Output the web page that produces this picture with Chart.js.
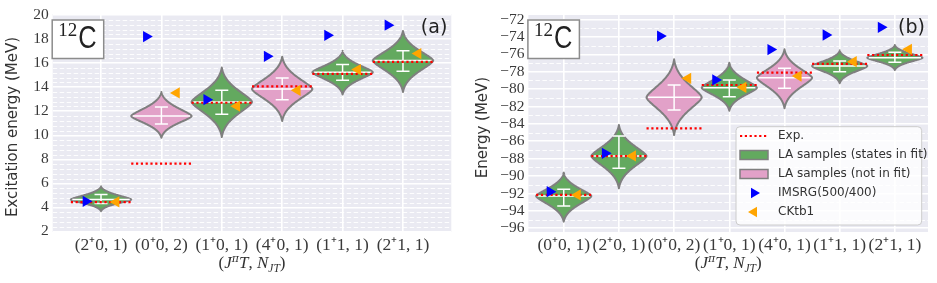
<!DOCTYPE html>
<html><head><meta charset="utf-8">
<script src="https://cdn.jsdelivr.net/npm/chart.js@4.4.1/dist/chart.umd.min.js"></script>
<style>
html,body{margin:0;padding:0;background:#fff;}
body{width:937px;height:283px;position:relative;overflow:hidden;}
canvas{position:absolute;top:0;}
#ca{left:0;} #cb{left:468px;}
</style></head><body>
<canvas id="ca" width="468" height="283"></canvas>
<canvas id="cb" width="469" height="283"></canvas>
<script>
// ---------- Panel (a): excitation energies ----------
const catsA      = ['(2\u207A0, 1)','(0\u207A0, 2)','(1\u207A0, 1)','(4\u207A0, 1)','(1\u207A1, 1)','(2\u207A1, 1)'];
const inFitA     = [1, 0, 1, 0, 1, 1];
const medianA    = [4.65, 11.6, 12.78, 13.85, 15.25, 16.22];
const errLowA    = [4.32, 10.94, 11.75, 12.97, 14.58, 15.33];
const errHighA   = [5.08, 12.36, 13.75, 14.78, 15.89, 17.03];
const vTopA      = [5.75, 13.6, 15.64, 16.55, 17.03, 18.69];
const vBottomA   = [3.69, 9.8, 9.86, 11.19, 13.4, 13.61];
const expA       = [4.44, 7.65, 12.71, 14.08, 15.11, 16.11];
const imsrgA     = [4.5, 18.22, 12.97, 16.58, 18.33, 19.17];
const cktb1A     = [4.45, 13.53, 12.42, 13.75, 15.47, 16.81];
const yTicksA    = [2, 4, 6, 8, 10, 12, 14, 16, 18, 20];

// ---------- Panel (b): absolute energies ----------
const catsB      = ['(0\u207A0, 1)','(2\u207A0, 1)','(0\u207A0, 2)','(1\u207A0, 1)','(4\u207A0, 1)','(1\u207A1, 1)','(2\u207A1, 1)'];
const inFitB     = [1, 1, 0, 1, 0, 1, 1];
const medianB    = [-92.3, -87.7, -80.95, -79.85, -78.7, -77.35, -76.4];
const errLowB    = [-93.44, -89.1, -82.4, -80.87, -79.9, -78.0, -76.92];
const errHighB   = [-91.52, -85.39, -79.53, -78.95, -77.6, -76.77, -75.77];
const vTopB      = [-89.6, -84.13, -76.58, -76.97, -75.43, -75.55, -74.93];
const vBottomB   = [-95.24, -91.4, -85.28, -82.48, -82.2, -79.33, -77.8];
const expB       = [-92.16, -87.7, -84.51, -79.53, -78.11, -77.11, -76.08];
const imsrgB     = [-91.79, -87.38, -73.9, -78.95, -75.45, -73.78, -72.9];
const cktb1B     = [-92.17, -87.69, -78.76, -79.8, -78.5, -76.85, -75.43];
const yTicksB    = [-96, -94, -92, -90, -88, -86, -84, -82, -80, -78, -76, -74, -72];

const GREEN = '#63a95f', PINK = '#e2a1c8', EDGE = '#7f7f7f', BG = '#eaeaf2';
const BLUE = '#0000ff', ORANGE = '#ffa500', RED = '#ff0000';
const TXT = '#333333';

function violinProfile(s) { return Math.exp(-3 * Math.pow(s, 1.5)) * (1 - Math.pow(s, 4)); }
function fmtTick(v) { return v < 0 ? '\u2212' + Math.abs(v) : String(v); }

function drawRightTri(ctx, x, y, r, color, dir) {
  ctx.save(); ctx.fillStyle = color; ctx.beginPath();
  const h = r * Math.sqrt(3) / 2;
  ctx.moveTo(x + dir * r, y); ctx.lineTo(x - dir * r / 2, y - h); ctx.lineTo(x - dir * r / 2, y + h);
  ctx.closePath(); ctx.fill(); ctx.restore();
}

function drawXTitle(ctx, cx, cy) {
  const parts = [
    {t: '(', f: '17px "Liberation Serif"', dy: 0},
    {t: 'J', f: 'italic 17px "Liberation Serif"', dy: 0},
    {t: '\u03C0', f: 'italic 11px "DejaVu Serif"', dy: -6},
    {t: 'T', f: 'italic 17px "Liberation Serif"', dy: 0},
    {t: ', ', f: '17px "Liberation Serif"', dy: 0},
    {t: 'N', f: 'italic 17px "Liberation Serif"', dy: 0},
    {t: 'JT', f: 'italic 11.5px "Liberation Serif"', dy: 4},
    {t: ')', f: '17px "Liberation Serif"', dy: 0}
  ];
  ctx.save(); ctx.fillStyle = TXT; ctx.textBaseline = 'alphabetic';
  let w = 0;
  parts.forEach(p => { ctx.font = p.f; p.w = ctx.measureText(p.t).width; w += p.w; });
  let x = cx - w / 2;
  parts.forEach(p => { ctx.font = p.f; ctx.fillText(p.t, x, cy + 5 + p.dy); x += p.w; });
  ctx.restore();
}

function makePanelPlugin(P) {
  return {
    id: 'panel_' + P.id,
    beforeDraw(chart) {
      const a = chart.chartArea, ctx = chart.ctx;
      ctx.save(); ctx.fillStyle = BG;
      ctx.fillRect(a.left, a.top, a.right - a.left, a.bottom - a.top);
      ctx.restore();
    },
    beforeDatasetsDraw(chart) {
      const a = chart.chartArea, ctx = chart.ctx, xs = chart.scales.x, ys = chart.scales.y;
      ctx.save();
      ctx.beginPath(); ctx.rect(a.left, a.top, a.right - a.left, a.bottom - a.top); ctx.clip();
      // minor grid
      ctx.strokeStyle = '#ffffff'; ctx.lineWidth = 0.9; ctx.setLineDash([4.5, 2.5]);
      const k0 = Math.ceil(ys.min / P.minor), k1 = Math.floor(ys.max / P.minor);
      for (let k = k0; k <= k1; k++) {
        const v = k * P.minor;
        if (Math.abs(v / 2 - Math.round(v / 2)) < 1e-6) continue;
        const py = Math.round(ys.getPixelForValue(v)) + 0.5;
        ctx.beginPath(); ctx.moveTo(a.left, py); ctx.lineTo(a.right, py); ctx.stroke();
      }
      ctx.setLineDash([]);
      // violins
      P.median.forEach((m, i) => {
        const cx = xs.getPixelForValue(i);
        const hw = xs.getPixelForValue(i + 0.5) - cx;
        const top = P.top[i], bot = P.bottom[i];
        const N = 70, vals = [];
        for (let k = 0; k <= N; k++) vals.push(bot + (m - bot) * k / N);
        for (let k = 1; k <= N; k++) vals.push(m + (top - m) * k / N);
        const prof = v => violinProfile(v < m ? (m - v) / (m - bot) : (v - m) / (top - m));
        ctx.beginPath();
        vals.forEach((v, j) => { const px = cx + hw * prof(v), py = ys.getPixelForValue(v); j ? ctx.lineTo(px, py) : ctx.moveTo(px, py); });
        for (let j = vals.length - 1; j >= 0; j--) { const v = vals[j]; ctx.lineTo(cx - hw * prof(v), ys.getPixelForValue(v)); }
        ctx.closePath();
        ctx.fillStyle = P.inFit[i] ? GREEN : PINK; ctx.fill();
        ctx.lineWidth = 2; ctx.strokeStyle = EDGE; ctx.lineJoin = 'round'; ctx.stroke();
        // median line
        ctx.strokeStyle = '#ffffff'; ctx.lineWidth = 1.5;
        const my = ys.getPixelForValue(m);
        ctx.beginPath(); ctx.moveTo(cx - hw + 1.5, my); ctx.lineTo(cx + hw - 1.5, my); ctx.stroke();
        // error bar
        const yl = ys.getPixelForValue(P.errLow[i]), yh = ys.getPixelForValue(P.errHigh[i]);
        ctx.beginPath();
        ctx.moveTo(cx, yl); ctx.lineTo(cx, yh);
        ctx.moveTo(cx - 6.5, yl); ctx.lineTo(cx + 6.5, yl);
        ctx.moveTo(cx - 6.5, yh); ctx.lineTo(cx + 6.5, yh);
        ctx.stroke();
      });
      // experiment lines
      ctx.strokeStyle = RED; ctx.lineWidth = 2.2; ctx.setLineDash([2.2, 2.6]);
      P.exp.forEach((e, i) => {
        const cx = xs.getPixelForValue(i), hw = xs.getPixelForValue(i + 0.5) - cx;
        const py = ys.getPixelForValue(e);
        ctx.beginPath(); ctx.moveTo(cx - hw, py); ctx.lineTo(cx + hw, py); ctx.stroke();
      });
      ctx.restore();
    },
    afterDraw(chart) {
      const a = chart.chartArea, ctx = chart.ctx;
      ctx.save();
      // y title
      ctx.fillStyle = TXT; ctx.font = '15px "DejaVu Sans"';
      ctx.textAlign = 'center'; ctx.textBaseline = 'middle';
      ctx.translate(P.yTitleX, (a.top + a.bottom) / 2 + 4); ctx.rotate(-Math.PI / 2);
      ctx.fillText(P.yTitle, 0, 0);
      ctx.restore();
      // x title
      drawXTitle(ctx, (a.left + a.right) / 2, 263);
      // nucleus box
      ctx.save();
      const bx = a.left - 0.5, by = 20, bw = 51.5, bh = 38.5;
      ctx.fillStyle = '#ffffff'; ctx.fillRect(bx, by, bw, bh);
      ctx.strokeStyle = '#8c8c8c'; ctx.lineWidth = 1.5; ctx.strokeRect(bx, by, bw, bh);
      ctx.fillStyle = '#222'; ctx.textBaseline = 'alphabetic'; ctx.textAlign = 'left';
      ctx.font = '19px "Liberation Serif"';
      ctx.fillText('12', bx + 6, by + 15.5);
      ctx.translate(bx + 26, by + 27.5); ctx.scale(0.82, 1);
      ctx.font = '31px "Liberation Sans"';
      ctx.fillText('C', 0, 0);
      ctx.restore();
      // panel label
      ctx.save();
      ctx.fillStyle = '#222'; ctx.font = '19px "DejaVu Sans"'; ctx.textAlign = 'right'; ctx.textBaseline = 'alphabetic';
      ctx.fillText(P.tag, a.right - P.tagInset, 32.5);
      ctx.restore();
      if (P.legend) drawLegend(ctx, a);
    }
  };
}

function drawLegend(ctx, a) {
  const lx = a.right - 192, ly = 126.7, lw = 185.7, lh = 98.3;
  ctx.save();
  ctx.beginPath();
  if (ctx.roundRect) ctx.roundRect(lx, ly, lw, lh, 4); else ctx.rect(lx, ly, lw, lh);
  ctx.fillStyle = 'rgba(255,255,255,0.82)'; ctx.fill();
  ctx.strokeStyle = '#cccccc'; ctx.lineWidth = 1; ctx.stroke();
  const hx0 = lx + 4, hx1 = lx + 32, tx = lx + 42;
  const rows = [136, 155, 174, 193, 212];
  ctx.font = '12px "DejaVu Sans"'; ctx.fillStyle = TXT; ctx.textBaseline = 'middle'; ctx.textAlign = 'left';
  // Exp
  ctx.strokeStyle = RED; ctx.lineWidth = 2.2; ctx.setLineDash([2.2, 2.6]);
  ctx.beginPath(); ctx.moveTo(hx0, rows[0]); ctx.lineTo(hx1, rows[0]); ctx.stroke(); ctx.setLineDash([]);
  ctx.fillText('Exp.', tx, rows[0]);
  // patches
  [[GREEN, 'LA samples (states in fit)'], [PINK, 'LA samples (not in fit)']].forEach((p, k) => {
    const y = rows[1 + k];
    ctx.fillStyle = p[0]; ctx.fillRect(hx0, y - 4.5, hx1 - hx0, 9);
    ctx.strokeStyle = EDGE; ctx.lineWidth = 1.5; ctx.strokeRect(hx0, y - 4.5, hx1 - hx0, 9);
    ctx.fillStyle = TXT; ctx.fillText(p[1], tx, y);
  });
  drawRightTri(ctx, (hx0 + hx1) / 2, rows[3], 6, BLUE, 1);
  ctx.fillStyle = TXT; ctx.fillText('IMSRG(500/400)', tx, rows[3]);
  drawRightTri(ctx, (hx0 + hx1) / 2, rows[4], 6, ORANGE, -1);
  ctx.fillStyle = TXT; ctx.fillText('CKtb1', tx, rows[4]);
  ctx.restore();
}

function makePanel(canvasId, P) {
  return new Chart(document.getElementById(canvasId), {
    type: 'scatter',
    data: {
      datasets: [
        {label: 'IMSRG(500/400)', data: P.imsrg.map((v, i) => ({x: i - 0.25, y: v})),
         pointStyle: 'triangle', rotation: 90, pointRadius: 6.5, backgroundColor: BLUE, borderWidth: 0},
        {label: 'CKtb1', data: P.cktb1.map((v, i) => ({x: i + 0.25, y: v})),
         pointStyle: 'triangle', rotation: -90, pointRadius: 6.5, backgroundColor: ORANGE, borderWidth: 0}
      ]
    },
    options: {
      responsive: false, animation: false, devicePixelRatio: 1, events: [],
      layout: {padding: {left: 0, right: P.padR, top: P.padT, bottom: 0}},
      plugins: {legend: {display: false}, tooltip: {enabled: false}},
      scales: {
        x: {
          type: 'linear', min: P.xmin, max: P.xmax,
          afterBuildTicks: s => { s.ticks = P.cats.map((_, i) => ({value: i})); },
          afterFit: s => { s.height = 51; },
          ticks: {callback: (v, i) => P.cats[i], autoSkip: false, maxRotation: 0, minRotation: 0,
                  font: {family: '"Liberation Serif"', size: 17.5}, color: '#3a3a3a', padding: 3},
          grid: {color: '#ffffff', lineWidth: 1.6, drawTicks: false},
          border: {display: false}
        },
        y: {
          min: P.ymin, max: P.ymax,
          afterBuildTicks: s => { s.ticks = P.yTicks.map(v => ({value: v})); },
          afterFit: s => { s.width = P.yw; },
          ticks: {callback: v => fmtTick(v), autoSkip: false, font: {family: '"Liberation Serif"', size: 15.5}, color: '#3a3a3a', padding: 4},
          grid: {color: '#ffffff', lineWidth: 1.6, drawTicks: false},
          border: {display: false}
        }
      }
    },
    plugins: [makePanelPlugin(P)]
  });
}

makePanel('ca', {
  id: 'a', cats: catsA, inFit: inFitA, median: medianA, errLow: errLowA, errHigh: errHighA,
  top: vTopA, bottom: vBottomA, exp: expA, imsrg: imsrgA, cktb1: cktb1A, yTicks: yTicksA,
  xmin: -0.8, xmax: 5.8, ymin: 1.95, ymax: 20.1, minor: 0.4,
  yw: 52.7, padR: 16.7, padT: 14, yTitle: 'Excitation energy (MeV)', yTitleX: 12.8,
  tag: '(a)', tagInset: 4, legend: false
});
makePanel('cb', {
  id: 'b', cats: catsB, inFit: inFitB, median: medianB, errLow: errLowB, errHigh: errHighB,
  top: vTopB, bottom: vBottomB, exp: expB, imsrg: imsrgB, cktb1: cktb1B, yTicks: yTicksB,
  xmin: -0.64, xmax: 6.6, ymin: -96.43, ymax: -71.48, minor: 1,
  yw: 60.4, padR: 9, padT: 15, yTitle: 'Energy (MeV)', yTitleX: 15.3,
  tag: '(b)', tagInset: 3, legend: true
});
</script>
</body></html>
